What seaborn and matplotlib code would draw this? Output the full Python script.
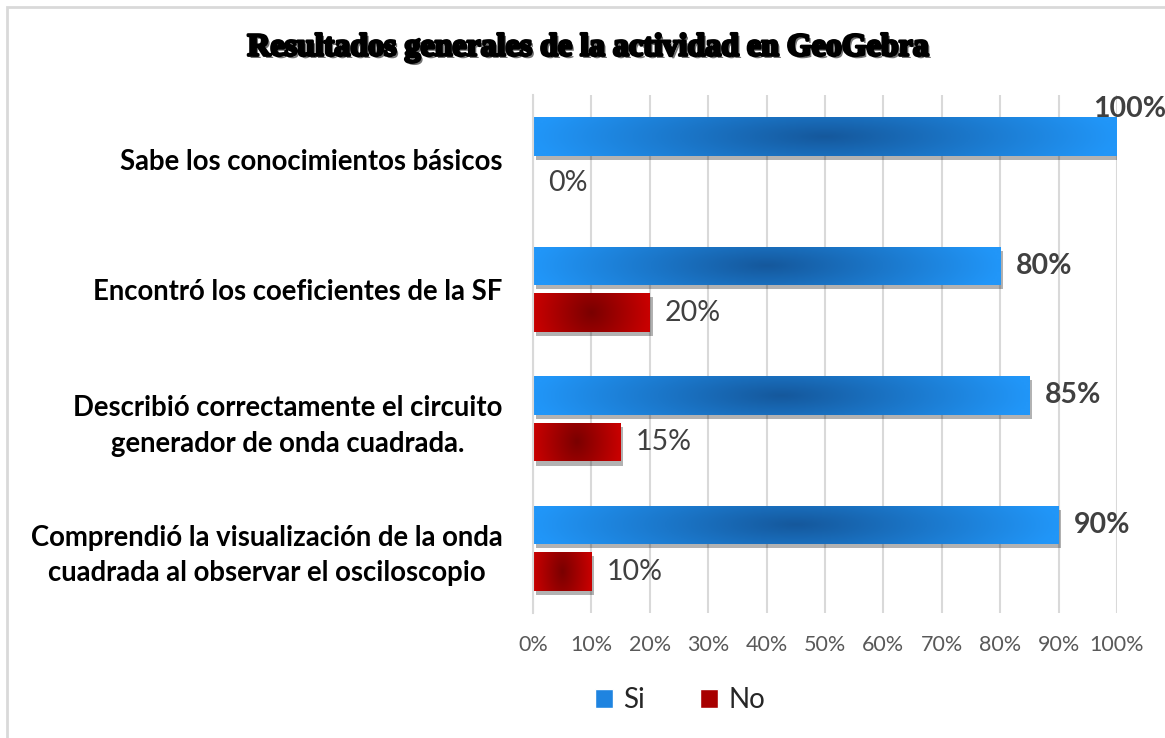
import numpy as np
import pandas as pd
import matplotlib
matplotlib.use('Agg')
import matplotlib.pyplot as plt
import matplotlib.patheffects as pe
from matplotlib.colors import LinearSegmentedColormap
from matplotlib.patches import Patch, Rectangle
import seaborn as sns

categorias = ['Sabe los conocimientos básicos',
              'Encontró los coeficientes de la SF',
              'Describió correctamente el circuito\ngenerador de onda cuadrada.',
              'Comprendió la visualización de la onda\ncuadrada al observar el osciloscopio']
si = [100, 80, 85, 90]
no = [0, 20, 15, 10]
series = ['Si', 'No']
ticks = list(range(0, 101, 10))

df = pd.DataFrame({'categoria': categorias * 2,
                   'valor': si + no,
                   'serie': ['Si'] * 4 + ['No'] * 4})

sns.set_theme(style='white')
plt.rcParams['font.family'] = ['Lato', 'DejaVu Sans']

borde = {'Si': '#2196F8', 'No': '#C80000'}
centro = {'Si': '#15589C', 'No': '#7A0000'}

fig = plt.figure(figsize=(11.65, 7.38), dpi=100)
ax = fig.add_axes([533/1165, 1-613/738, (1117-533)/1165, (613-95)/738])

sns.barplot(data=df, x='valor', y='categoria', hue='serie', hue_order=series,
            palette=borde, orient='h', width=0.72, gap=0.17, legend=False,
            edgecolor='none', saturation=1, ax=ax)

yl = ax.get_ylim()

# gradiente oscuro al centro de cada barra
ny, nx = 40, 200
gx = np.linspace(-1, 1, nx)
gy = np.linspace(-1, 1, ny)
XX, YY = np.meshgrid(gx, gy)
T = np.clip(np.sqrt(XX**2 + (0.35*YY)**2), 0, 1)

for cont, s in zip(ax.containers, series):
    cmap = LinearSegmentedColormap.from_list(s, [centro[s], borde[s]])
    for p in cont:
        p.set_path_effects([pe.SimplePatchShadow(offset=(2, -3), alpha=0.3,
                                                  shadow_rgbFace='black'),
                            pe.Normal()])
        w = p.get_width()
        if w <= 0:
            continue
        x0, y0, h = p.get_x(), p.get_y(), p.get_height()
        im = ax.imshow(T, cmap=cmap, vmin=0, vmax=1, aspect='auto',
                       extent=(x0, x0 + w, y0 + h, y0), interpolation='bilinear',
                       zorder=p.get_zorder() + 0.1)
        im.set_clip_path(p)

ax.set_xlim(0, 100)
ax.set_ylim(yl)

# etiquetas de datos
for cont, s in zip(ax.containers, series):
    for p, v in zip(cont, cont.datavalues):
        yc = p.get_y() + p.get_height() / 2
        if s == 'Si':
            if v >= 100:
                ax.annotate(f'{v:.0f}%', (v, p.get_y()), xytext=(-17, 6),
                            textcoords='offset points', va='center', ha='left',
                            fontsize=20.5, fontweight='bold', color='#404040',
                            annotation_clip=False)
            else:
                ax.annotate(f'{v:.0f}%', (v, yc), xytext=(11, 0),
                            textcoords='offset points', va='center', ha='left',
                            fontsize=20.5, fontweight='bold', color='#404040')
        else:
            ax.annotate(f'{v:.0f}%', (v, yc), xytext=(11, 0),
                        textcoords='offset points', va='center', ha='left',
                        fontsize=20.5, color='#404040')

ax.set_xticks(ticks)
ax.set_xticklabels([f'{t}%' for t in ticks], fontsize=15.5, color='#595959')
ax.tick_params(axis='x', length=0, pad=16)
ax.tick_params(axis='y', length=0, pad=22)
for lab in ax.get_yticklabels():
    lab.set_fontsize(19.8)
    lab.set_fontweight('bold')
    lab.set_color('black')
    lab.set_multialignment('center')
    lab.set_linespacing(1.45)
ax.set_xlabel('')
ax.set_ylabel('')
ax.grid(axis='x', color='#D9D9D9', lw=1.5)
ax.grid(axis='y', visible=False)
ax.set_axisbelow(True)
for sp in ['top', 'right', 'bottom']:
    ax.spines[sp].set_visible(False)
ax.spines['left'].set_color('#D9D9D9')
ax.spines['left'].set_linewidth(1.5)

fig.text(589/1165, 1-48/738, 'Resultados generales de la actividad en GeoGebra',
         ha='center', va='center', fontsize=23, fontweight='bold',
         family='Liberation Serif', color='black',
         path_effects=[pe.withSimplePatchShadow(offset=(1.8, -1.8), alpha=0.55),
                       pe.Stroke(linewidth=2, foreground='black'), pe.Normal()])

handles = [Patch(facecolor='#1F84E0', label='Si'), Patch(facecolor='#A80000', label='No')]
fig.legend(handles=handles, loc='center', bbox_to_anchor=(680/1165, 1-700/738),
           ncol=2, frameon=False, fontsize=20, handlelength=0.65, handleheight=0.65,
           handletextpad=0.35, columnspacing=2.0)

fig.patches.append(Rectangle((7/1165, -0.1), 1.2, 1.1 - 7/738,
                             transform=fig.transFigure, fill=False,
                             edgecolor='#D9D9D9', lw=2))

fig.savefig('out.png', dpi=100)
